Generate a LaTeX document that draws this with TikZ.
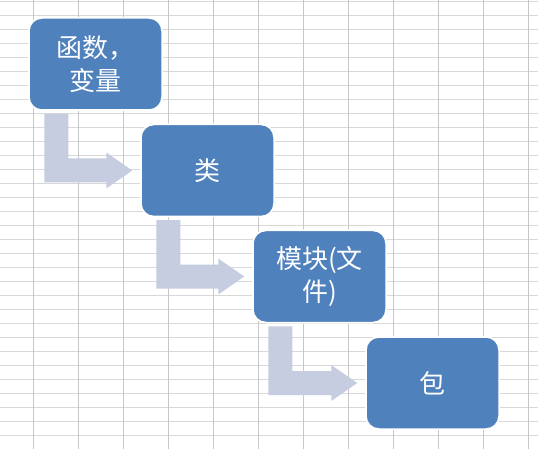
\documentclass[tikz,border=0pt]{standalone}
\usepackage{fontspec}
\setmainfont{Noto Sans CJK SC}
\usetikzlibrary{calc}
\definecolor{boxblue}{RGB}{79,129,189}
\definecolor{arrowfill}{RGB}{198,205,224}
\definecolor{gridv}{RGB}{200,200,200}
\definecolor{gridh}{RGB}{216,216,216}
\tikzset{
  stepbox/.style={rectangle, rounded corners=13pt, fill=boxblue, draw=white,
    line width=1.5pt, minimum width=133pt, minimum height=92pt,
    text=white, align=center, inner sep=0pt,
    font=\fontsize{26}{33}\selectfont},
  bentfill/.style={fill=arrowfill},
}
\newcommand\bentarrow[2]{%
  \fill[bentfill] ($(#1.south west)+(16,3)$) -- ($(#1.south west)+(40,3)$)
    |- ($(#2.west)+(-34,-12)$) -- ($(#2.west)+(-34,-18)$)
    -- ($(#2.west)+(-8,0)$) -- ($(#2.west)+(-34,18)$)
    -- ($(#2.west)+(-34,12)$) -| ($(#1.south west)+(16,3)$) -- cycle;}
\begin{document}
\begin{tikzpicture}[x=1pt,y=-1pt]
  \fill[white] (0,0) rectangle (538,449);
  \useasboundingbox (0,0) rectangle (538,449);
  % grid
  \foreach \k in {0,...,31} {
    \draw[gridh, line width=0.9pt] (0,{1.7+14*\k}) -- (538,{1.7+14*\k});
  }
  \foreach \k in {0,...,11} {
    \draw[gridv, line width=1pt] ({33.6+45*\k},0) -- ({33.6+45*\k},449);
  }
  % boxes
  \node[stepbox] (b1) at (95.5,64) {函数，\\变量};
  \node[stepbox] (b2) at (207.5,170.5) {类};
  \node[stepbox] (b3) at (319.5,276.5) {模块(文\\件)};
  \node[stepbox] (b4) at (432.5,383) {包};
  % arrows
  \bentarrow{b1}{b2}
  \bentarrow{b2}{b3}
  \bentarrow{b3}{b4}
  % redraw boxes on top
  \node[stepbox] at (b1) {函数，\\变量};
  \node[stepbox] at (b2) {类};
  \node[stepbox] at (b3) {模块(文\\件)};
  \node[stepbox] at (b4) {包};
\end{tikzpicture}
\end{document}
